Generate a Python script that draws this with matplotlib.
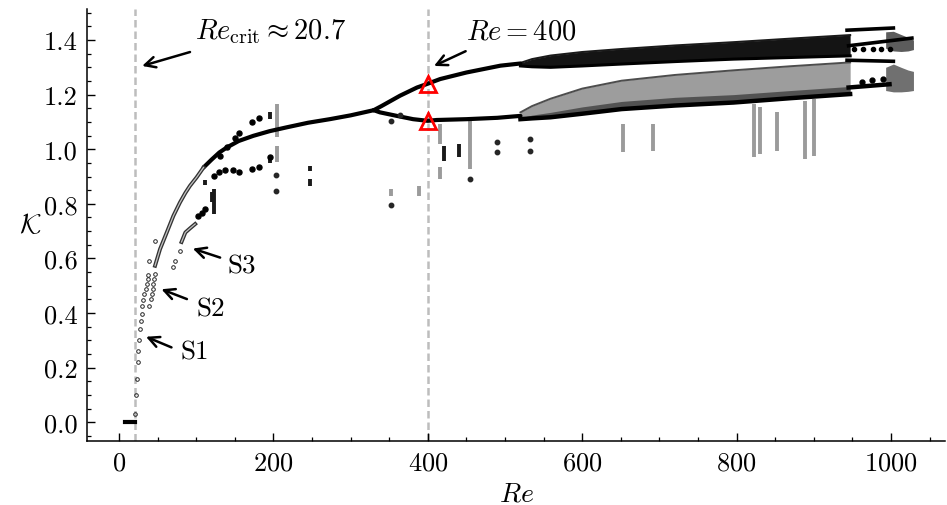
import matplotlib
matplotlib.use("Agg")
import matplotlib.pyplot as plt
from matplotlib.ticker import MultipleLocator

plt.rcParams.update({
    "font.family": "serif",
    "font.serif": ["cmr10"],
    "mathtext.fontset": "cm",
    "axes.formatter.use_mathtext": True,
    "font.size": 19,
})

# ---- data -------------------------------------------------------------
re_crit = 20.7
re_mark = 400

# steady state below onset
zero_re = [8, 21]
zero_k = [0.0, 0.0]

# sparse low-Re branches (open circles)
s1_re = [20.7, 21.6, 22.9, 24.2, 25.0, 25.9, 27.2, 28.1, 29.4, 30.3, 31.6, 32.9, 34.6, 35.9, 37.1, 38.0, 39.4]
s1_k = [0.03, 0.10, 0.16, 0.22, 0.26, 0.30, 0.34, 0.37, 0.396, 0.424, 0.447, 0.469, 0.487, 0.506, 0.524, 0.539, 0.591]
s2_re = [39.4, 41.0, 42.3, 43.6, 44.5, 45.8, 46.7, 46.7]
s2_k = [0.426, 0.451, 0.469, 0.487, 0.506, 0.524, 0.542, 0.664]
s3_re = [69.5, 72.7, 79.2]
s3_k = [0.567, 0.591, 0.628]

# dense chains of open circles
chain_up_re = [46.7, 53.2, 61.9, 70.5, 79, 86, 92, 100.6, 109.5]
chain_up_k = [0.573, 0.634, 0.695, 0.756, 0.805, 0.84, 0.866, 0.897, 0.933]
chain_s3_re = [81, 86, 92, 98.7]
chain_s3_k = [0.66, 0.695, 0.71, 0.726]

# main periodic branch
main_re = [109.5, 120, 130, 139.5, 155, 174, 195, 217, 245, 273, 300, 330]
main_k = [0.933, 0.962, 0.988, 1.006, 1.03, 1.049, 1.066, 1.08, 1.097, 1.11, 1.124, 1.143]

# branches after the pitchfork
upper_re = [330, 340, 352, 364, 386, 400, 416, 450, 494, 520]
upper_k = [1.143, 1.158, 1.177, 1.196, 1.226, 1.24, 1.257, 1.281, 1.306, 1.314]
lower_re = [330, 338, 360, 381, 400, 411.5, 450, 490, 511, 520]
lower_k = [1.143, 1.135, 1.122, 1.11, 1.104, 1.107, 1.11, 1.115, 1.12, 1.122]

# quasi-periodic bands
band_re = [520, 535, 559, 600, 651, 720, 796, 870, 947]
up_top = [1.316, 1.33, 1.343, 1.356, 1.367, 1.38, 1.392, 1.405, 1.418]
up_bot = [1.305, 1.302, 1.30, 1.305, 1.312, 1.321, 1.33, 1.336, 1.342]
lo_top = [1.135, 1.158, 1.185, 1.222, 1.251, 1.272, 1.289, 1.304, 1.318]
lo_mid = [1.115, 1.125, 1.135, 1.155, 1.175, 1.19, 1.2, 1.215, 1.23]
lo_bot = [1.11, 1.113, 1.117, 1.13, 1.147, 1.16, 1.171, 1.187, 1.202]

# high-Re tail
tail_top_re = [943, 1003]
tail_top_k = [1.436, 1.444]
tail_diag_re = [945, 1027]
tail_diag_k = [1.379, 1.407]
tail_row_re = [952, 964, 976, 987, 998]
tail_row_k = [1.366, 1.366, 1.367, 1.367, 1.368]
tail_mid_re = [943, 1003]
tail_mid_k = [1.326, 1.322]
tail_low_re = [945, 998]
tail_low_k = [1.226, 1.238]
tail_lrow_re = [962, 975, 990]
tail_lrow_k = [1.248, 1.252, 1.257]
clu_re = [993, 1003, 1013, 1022, 1029]
clu_up_lo = [1.37, 1.36, 1.358, 1.36, 1.365]
clu_up_hi = [1.43, 1.432, 1.42, 1.41, 1.40]
clu_lo_lo = [1.215, 1.21, 1.21, 1.212, 1.215]
clu_lo_hi = [1.30, 1.312, 1.30, 1.29, 1.285]

# filled points of the secondary arms
arm_up_re = [131, 140.5, 149.8, 155.8, 172, 182]
arm_up_k = [0.976, 1.009, 1.04, 1.059, 1.10, 1.114]
arm_lo_re = [103, 107.4, 112, 122.5, 129, 137.6, 148, 155, 172, 182, 195]
arm_lo_k = [0.756, 0.768, 0.78, 0.903, 0.915, 0.923, 0.923, 0.918, 0.927, 0.936, 0.97]
dots_re = [203, 203, 352, 352, 364, 489, 489, 532, 532, 455]
dots_k = [0.906, 0.848, 1.104, 0.795, 1.125, 1.027, 0.988, 1.037, 0.994, 0.89]

# vertical scatter columns (Re, K_min, K_max)
dark_col_re = [195, 195, 248, 248, 420.7, 440, 122.5, 112, 121]
dark_col_lo = [1.11, 0.951, 0.921, 0.866, 0.958, 0.97, 0.763, 0.868, 0.805]
dark_col_hi = [1.135, 0.976, 0.939, 0.89, 1.012, 1.019, 0.853, 0.886, 0.842]
grey_col_re = [205, 205, 352, 388, 415.6, 415.6, 455, 652.5, 692, 823, 830, 852, 888, 900]
grey_col_lo = [1.044, 0.953, 0.829, 0.829, 1.019, 0.89, 0.927, 0.988, 0.994, 0.97, 0.982, 0.994, 0.964, 0.976]
grey_col_hi = [1.165, 1.011, 0.854, 0.866, 1.092, 0.933, 1.11, 1.092, 1.092, 1.165, 1.154, 1.136, 1.177, 1.183]

# marked states at Re = 400
tri_re = [400, 400]
tri_k = [1.24, 1.104]

# ---- figure -----------------------------------------------------------
fig = plt.figure(figsize=(9.47, 5.06), dpi=100)
ax = fig.add_axes([0.0922, 0.1259, 0.9058, 0.854])

for xv in (re_crit, re_mark):
    ax.axvline(xv, color="#bdbdbd", lw=1.8, dashes=(3, 1.6), zorder=1)

# vertical columns
ax.vlines(grey_col_re, grey_col_lo, grey_col_hi, color="0.35", lw=2.8, alpha=0.6, zorder=2)
ax.vlines(dark_col_re, dark_col_lo, dark_col_hi, color="0.1", lw=2.8, zorder=2)

# bands
ax.fill_between(band_re, up_bot, up_top, color="0.08", lw=0, zorder=3)
ax.plot(band_re, up_top, color="0.1", lw=1.5, zorder=3)
ax.plot(band_re, up_bot, color="0.0", lw=2.2, zorder=3)
ax.fill_between(band_re, lo_bot, lo_top, color="0.55", alpha=0.85, lw=0, zorder=3)
ax.fill_between(band_re, lo_bot, lo_mid, color="0.2", alpha=0.7, lw=0, zorder=3)
ax.plot(band_re, lo_top, color="0.3", lw=1.4, zorder=3)
ax.plot(band_re, lo_bot, color="0.0", lw=3.2, zorder=3)

# tail
ax.fill_between(clu_re, clu_up_lo, clu_up_hi, color="0.2", alpha=0.8, lw=0, zorder=3)
ax.fill_between(clu_re, clu_lo_lo, clu_lo_hi, color="0.25", alpha=0.75, lw=0, zorder=3)
ax.plot(tail_top_re, tail_top_k, color="black", lw=2.6, zorder=4)
ax.plot(tail_diag_re, tail_diag_k, color="black", lw=2.6, zorder=4)
ax.plot(tail_mid_re, tail_mid_k, color="black", lw=2.6, zorder=4)
ax.plot(tail_low_re, tail_low_k, color="black", lw=3.2, zorder=4)
ax.plot(tail_row_re, tail_row_k, "o", color="black", ms=3, zorder=4)
ax.plot(tail_lrow_re, tail_lrow_k, "o", color="black", ms=3.5, zorder=4)

# branches
ax.plot(main_re, main_k, color="black", lw=3, solid_capstyle="round", zorder=4)
ax.plot(upper_re, upper_k, color="black", lw=3, solid_capstyle="round", zorder=4)
ax.plot(lower_re, lower_k, color="black", lw=3, solid_capstyle="round", zorder=4)
ax.plot(zero_re, zero_k, color="black", lw=3, zorder=4)

# dense open-circle chains
for cre, ck in ((chain_up_re, chain_up_k), (chain_s3_re, chain_s3_k)):
    ax.plot(cre, ck, color="0.2", lw=2.8, zorder=4)
    ax.plot(cre, ck, color="white", lw=0.9, alpha=0.7, zorder=4)

# sparse open circles
for sre, sk in ((s1_re, s1_k), (s2_re, s2_k), (s3_re, s3_k)):
    ax.plot(sre, sk, "o", ms=2.6, mfc="none", mec="0.15", mew=0.7, zorder=4)

# filled points
ax.plot(arm_up_re, arm_up_k, "o", color="black", ms=3.6, zorder=4)
ax.plot(arm_lo_re, arm_lo_k, "o", color="black", ms=3.6, zorder=4)
ax.plot(dots_re, dots_k, "o", color="0.15", ms=3.2, zorder=4)

# marked states
ax.plot(tri_re, tri_k, "^", ms=11, mfc="none", mec="red", mew=2, zorder=6)

# annotations
arrow = dict(arrowstyle="->", color="black", lw=1.8, shrinkA=0, shrinkB=0)
ax.annotate("", xy=(30, 1.305), xytext=(92, 1.356), arrowprops=arrow)
ax.text(98, 1.435, r"$Re_{\rm crit} \approx 20.7$", fontsize=20.5, va="center", ha="left")
ax.annotate("", xy=(408, 1.305), xytext=(449, 1.359), arrowprops=arrow)
ax.text(449, 1.43, r"$Re = 400$", fontsize=20.5, va="center", ha="left")

ax.annotate("", xy=(35, 0.313), xytext=(68, 0.274), arrowprops=arrow)
ax.text(80, 0.26, "S1", fontsize=19.5, va="center", ha="left")
ax.annotate("", xy=(55, 0.487), xytext=(88, 0.451), arrowprops=arrow)
ax.text(100, 0.415, "S2", fontsize=19.5, va="center", ha="left")
ax.annotate("", xy=(95.6, 0.636), xytext=(131, 0.603), arrowprops=arrow)
ax.text(141, 0.575, "S3", fontsize=19.5, va="center", ha="left")

# axes styling
ax.set_xlim(-41, 1070)
ax.set_ylim(-0.07, 1.513)
ax.spines["top"].set_visible(False)
ax.spines["right"].set_visible(False)
for s in ("left", "bottom"):
    ax.spines[s].set_linewidth(1.1)
ax.xaxis.set_major_locator(MultipleLocator(200))
ax.xaxis.set_minor_locator(MultipleLocator(50))
ax.yaxis.set_minor_locator(MultipleLocator(0.05))
ax.set_yticks([0.0, 0.2, 0.4, 0.6, 0.8, 1.0, 1.2, 1.4])
ax.set_yticklabels(["0.0", "0.2", "0.4", "0.6", "0.8", "1.0", "1.2", "1.4"])
ax.tick_params(which="major", direction="in", length=6, width=1.0, labelsize=19, pad=7)
ax.tick_params(which="minor", direction="in", length=3, width=0.9)
ax.tick_params(top=False, right=False)
ax.tick_params(which="minor", top=False, right=False)

ax.set_xlabel(r"$Re$", fontsize=20, labelpad=4)
ax.set_ylabel(r"$\mathcal{K}$", fontsize=20, rotation=0, labelpad=10, va="center")

fig.savefig("out.png", dpi=100)
